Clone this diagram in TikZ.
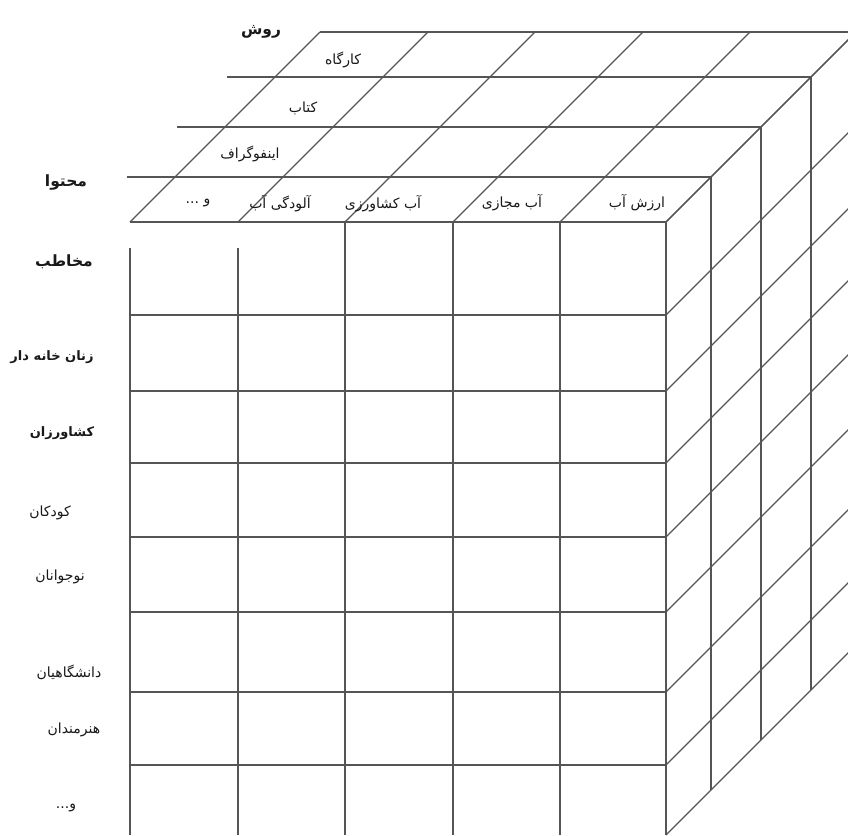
\documentclass[tikz,border=0pt]{standalone}
\usepackage{fontspec}
\newfontfamily\fa[Script=Arabic]{DejaVu Sans}
\TeXXeTstate=1
\definecolor{gridline}{RGB}{85,85,85}
\definecolor{ink}{RGB}{25,25,25}
\tikzset{
  gridpen/.style={draw=gridline, line width=1.1pt},
  lbl/.style={inner sep=0pt, text=ink, font=\fa\fontsize{14}{16}\selectfont},
  lblb/.style={inner sep=0pt, text=ink, font=\fa\bfseries\fontsize{13}{15}\selectfont},
  head/.style={inner sep=0pt, text=ink, font=\fa\bfseries\fontsize{15.5}{18}\selectfont}
}
\newcommand{\rtl}[1]{\beginR #1\endR}
\begin{document}
\begin{tikzpicture}[x=1pt,y=-1pt]
\useasboundingbox (0,0) rectangle (848,835);
\clip (0,0) rectangle (848,835);
\fill[white] (0,0) rectangle (848,835);
% ---------- top face ----------
\draw[gridpen] (130,222) -- (666,222);
\draw[gridpen] (320,32) -- (856,32);
\foreach \d in {45,95,145}{
  \draw[gridpen] ({130+\d-48},{222-\d}) -- ({666+\d},{222-\d});
}
\foreach \x in {130,238,345,453,560,666}{
  \draw[gridpen] (\x,222) -- ({\x+190},32);
}
% ---------- front face ----------
\draw[gridpen] (130,248) -- (130,835);
\draw[gridpen] (238,248) -- (238,835);
\foreach \x in {345,453,560,666}{
  \draw[gridpen] (\x,222) -- (\x,835);
}
\foreach \y in {315,391,463,537,612,692,765}{
  \draw[gridpen] (130,\y) -- (666,\y);
}
% ---------- right face ----------
\foreach \d in {45,95,145,190}{
  \draw[gridpen] ({666+\d},{222-\d}) -- ({666+\d},{835-\d});
}
\foreach \y in {222,315,391,463,537,612,692,765,835}{
  \draw[gridpen] (666,\y) -- (856,{\y-190});
}
% ---------- labels ----------
\node[head] (ravesh) at (261,32) {\rtl{روش}};
\node[lbl] (kargah) at (343,60) {\rtl{کارگاه}};
\node[lbl] (ketab) at (303,108) {\rtl{کتاب}};
\node[lbl] (info) at (250,154) {\rtl{اینفوگراف}};
\node[head] (mohtava) at (66,183) {\rtl{محتوا}};
\node[lbl] (etc1) at (198,203) {\rtl{و ...}};
\node[lbl] (aloodegi) at (280,204) {\rtl{آلودگی آب}};
\node[lbl] (keshavarzi) at (383,204) {\rtl{آب کشاورزی}};
\node[lbl] (majazi) at (512,203) {\rtl{آب مجازی}};
\node[lbl] (arzesh) at (637,203) {\rtl{ارزش آب}};
\node[head] (mokhatab) at (64,262) {\rtl{مخاطب}};
\node[lblb] (zanan) at (52,357) {\rtl{زنان خانه دار}};
\node[lblb] (keshavarzan) at (62,433) {\rtl{کشاورزان}};
\node[lbl] (koodakan) at (50,513) {\rtl{کودکان}};
\node[lbl] (nojavanan) at (60,577) {\rtl{نوجوانان}};
\node[lbl] (daneshgahian) at (69,672) {\rtl{دانشگاهیان}};
\node[lbl] (honarmandan) at (74,730) {\rtl{هنرمندان}};
\node[lbl] (etc2) at (66,808) {\rtl{و...}};
\end{tikzpicture}
\end{document}
